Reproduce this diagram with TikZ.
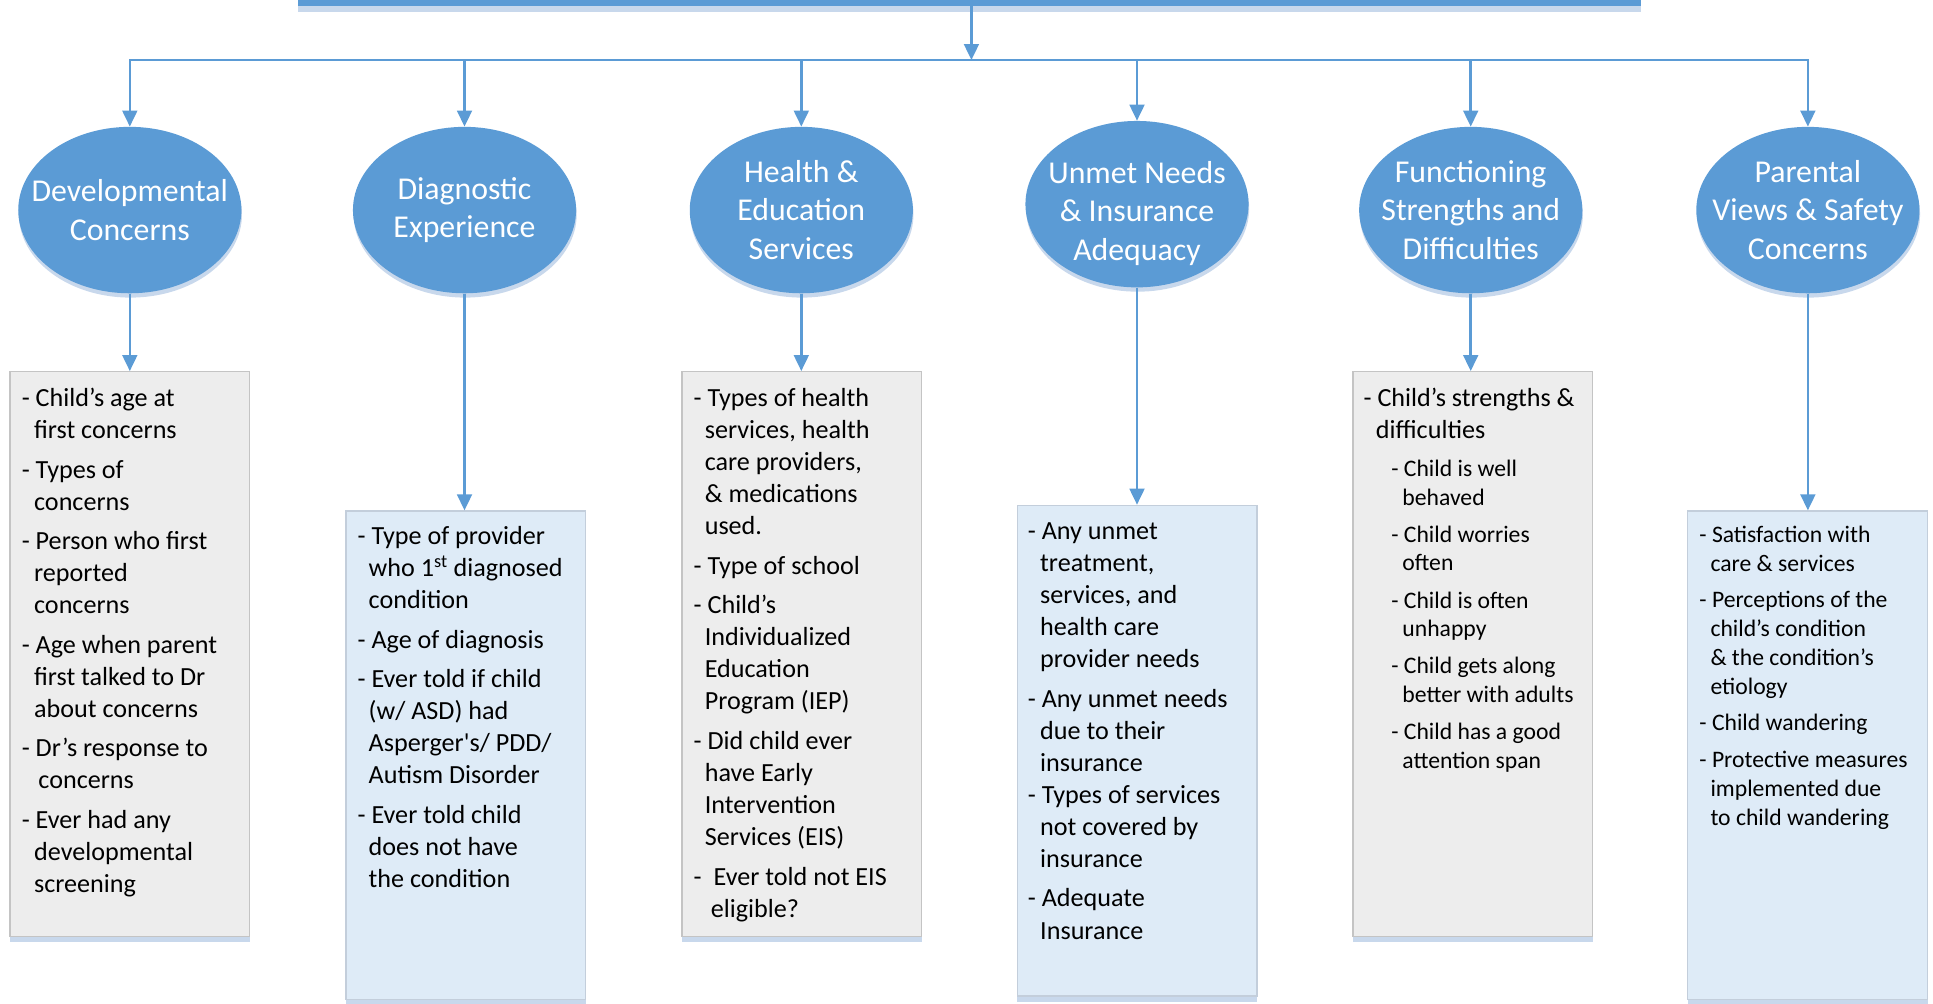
\documentclass[tikz,border=0pt]{standalone}
\usepackage{fontspec}
\setmainfont{Carlito}
\usetikzlibrary{arrows.meta,shapes.geometric,shadows}
\definecolor{obl}{HTML}{5B9BD5}
\definecolor{gbox}{HTML}{EDEDED}
\definecolor{gline}{HTML}{C4C4C4}
\definecolor{bbox}{HTML}{DEEBF7}
\definecolor{bline}{HTML}{C3CEDB}
\definecolor{shad}{HTML}{C8D8EC}
\begin{document}
\begin{tikzpicture}[x=1pt,y=-1pt,
  conn/.style={draw=obl,line width=2pt},
  arr/.style={conn,-{Triangle[width=12pt,length=13pt]}},
  topbar/.style={rectangle,fill=obl,inner sep=0pt,minimum width=1089pt,minimum height=25pt,
    drop shadow={shadow xshift=0pt,shadow yshift=-5pt,fill=shad,opacity=1}},
  ell/.style={ellipse,fill=obl,inner sep=0pt,minimum width=181pt,minimum height=135pt,
    drop shadow={shadow xshift=0.5pt,shadow yshift=-3.5pt,fill=shad,opacity=1}},
  elltxt/.style={text=white,align=center,inner sep=0pt,font=\fontsize{25.8}{31}\selectfont},
  gbx/.style={rectangle,draw=gline,fill=gbox,line width=1pt,inner sep=0pt,minimum width=194.5pt,anchor=north,
    drop shadow={shadow xshift=0pt,shadow yshift=-5pt,fill=shad,opacity=1}},
  bbx/.style={rectangle,draw=bline,fill=bbox,line width=1pt,inner sep=0pt,minimum width=194.5pt,anchor=north,
    drop shadow={shadow xshift=0pt,shadow yshift=-5pt,fill=shad,opacity=1}},
  bigtxt/.style={anchor=north west,inner sep=0pt,align=left,font=\fontsize{21.2}{26}\selectfont},
  smltxt/.style={anchor=north west,inner sep=0pt,align=left,font=\fontsize{19.2}{23.3}\selectfont},
]
\useasboundingbox (0,0) rectangle (1568,814.4);
\clip (0,0) rectangle (1568,814.4);

% top bar and hub
\node[topbar] (top) at (786.3,-7.5) {};
\coordinate (hub) at (788,48.7);

% ellipses
\node[ell] (e1) at (105.3,170.4) {};
\node[ell] (e2) at (376.8,170.4) {};
\node[ell] (e3) at (650,170.4) {};
\node[ell] (e4) at (922.3,165.6) {};
\node[ell] (e5) at (1193,170.4) {};
\node[ell] (e6) at (1466.5,170.4) {};

\node[elltxt] (e1t) at (e1) {Developmental\\Concerns};
\node[elltxt] (e2t) at (e2) {Diagnostic\\Experience};
\node[elltxt] (e3t) at (e3) {Health \&\\Education\\Services};
\node[elltxt] (e4t) at ([yshift=-7.5pt]e4.center) {Unmet Needs\\\& Insurance\\Adequacy};
\node[elltxt] (e5t) at (e5) {Functioning\\Strengths and\\Difficulties};
\node[elltxt] (e6t) at (e6) {Parental\\Views \& Safety\\Concerns};

% boxes
\node[gbx,minimum height=458pt] (b1) at (105.3,301) {};
\node[bbx,minimum height=396pt] (b2) at (377.9,414) {};
\node[gbx,minimum height=458pt] (b3) at (650.5,301) {};
\node[bbx,minimum height=398pt] (b4) at (922.3,409.4) {};
\node[gbx,minimum height=458pt] (b5) at (1194.7,301) {};
\node[bbx,minimum height=396pt] (b6) at (1466.3,414) {};

% connectors
\draw[arr] (top.south -| hub) -- (hub);
\draw[arr] (hub) -| (e1.north);
\draw[arr] (hub) -| (e6.north);
\draw[arr] (e2.north |- hub) -- (e2.north);
\draw[arr] (e3.north |- hub) -- (e3.north);
\draw[arr] (e4.north |- hub) -- (e4.north);
\draw[arr] (e5.north |- hub) -- (e5.north);
\foreach \i in {1,...,6}{
  \draw[arr] (e\i.south) -- (e\i.south |- b\i.north);
}

% box texts
\node[bigtxt] (t1) at (17.5,311.5) {\strut- Child’s age at\\
\hspace*{10pt}first concerns\\[6pt]
- Types of\\
\hspace*{10pt}concerns\\[6pt]
- Person who first\\
\hspace*{10pt}reported\\
\hspace*{10pt}concerns\\[6pt]
- Age when parent\\
\hspace*{10pt}first talked to Dr\\
\hspace*{10pt}about concerns\\[6pt]
- Dr’s response to\\
\hspace*{13.5pt}concerns\\[6pt]
- Ever had any\\
\hspace*{10pt}developmental\\
\hspace*{10pt}screening};

\node[bigtxt] (t2) at (289.9,423.4) {\strut- Type of provider\\
\hspace*{9pt}who 1\textsuperscript{st} diagnosed\\
\hspace*{9pt}condition\\[6pt]
- Age of diagnosis\\[6pt]
- Ever told if child\\
\hspace*{9pt}(w/ ASD) had\\
\hspace*{9pt}Asperger\textquotesingle s/ PDD/\\
\hspace*{9pt}Autism Disorder\\[6pt]
- Ever told child\\
\hspace*{9pt}does not have\\
\hspace*{9pt}the condition};

\node[bigtxt] (t3) at (562.5,311.5) {\strut- Types of health\\
\hspace*{9pt}services, health\\
\hspace*{9pt}care providers,\\
\hspace*{9pt}\& medications\\
\hspace*{9pt}used.\\[6pt]
- Type of school\\[6pt]
- Child’s\\
\hspace*{9pt}Individualized\\
\hspace*{9pt}Education\\
\hspace*{9pt}Program (IEP)\\[6pt]
- Did child ever\\
\hspace*{9pt}have Early\\
\hspace*{9pt}Intervention\\
\hspace*{9pt}Services (EIS)\\[6pt]
-\hspace*{9.7pt}Ever told not EIS\\
\hspace*{14pt}eligible?};

\node[bigtxt] (t4) at (833.6,419.3) {\strut- Any unmet\\
\hspace*{10pt}treatment,\\
\hspace*{10pt}services, and\\
\hspace*{10pt}health care\\
\hspace*{10pt}provider needs\\[6pt]
- Any unmet needs\\
\hspace*{10pt}due to their\\
\hspace*{10pt}insurance\\
- Types of services\\
\hspace*{10pt}not covered by\\
\hspace*{10pt}insurance\\[6pt]
- Adequate\\
\hspace*{10pt}Insurance};

\node[bigtxt] (t5) at (1105.9,311.5) {\strut- Child’s strengths \&\\
\hspace*{10pt}difficulties};
\node[smltxt] (t5s) at (1128.4,369.9) {\strut- Child is well\\
\hspace*{9pt}behaved\\[6.8pt]
- Child worries\\
\hspace*{9pt}often\\[6.8pt]
- Child is often\\
\hspace*{9pt}unhappy\\[6.8pt]
- Child gets along\\
\hspace*{9pt}better with adults\\[6.8pt]
- Child has a good\\
\hspace*{9pt}attention span};

\node[smltxt] (t6) at (1378.3,423.4) {\strut- Satisfaction with\\
\hspace*{9pt}care \& services\\[6.6pt]
- Perceptions of the\\
\hspace*{9pt}child’s condition\\
\hspace*{9pt}\& the condition’s\\
\hspace*{9pt}etiology\\[6pt]
- Child wandering\\[7pt]
- Protective measures\\
\hspace*{9pt}implemented due\\
\hspace*{9pt}to child wandering};
\end{tikzpicture}
\end{document}
